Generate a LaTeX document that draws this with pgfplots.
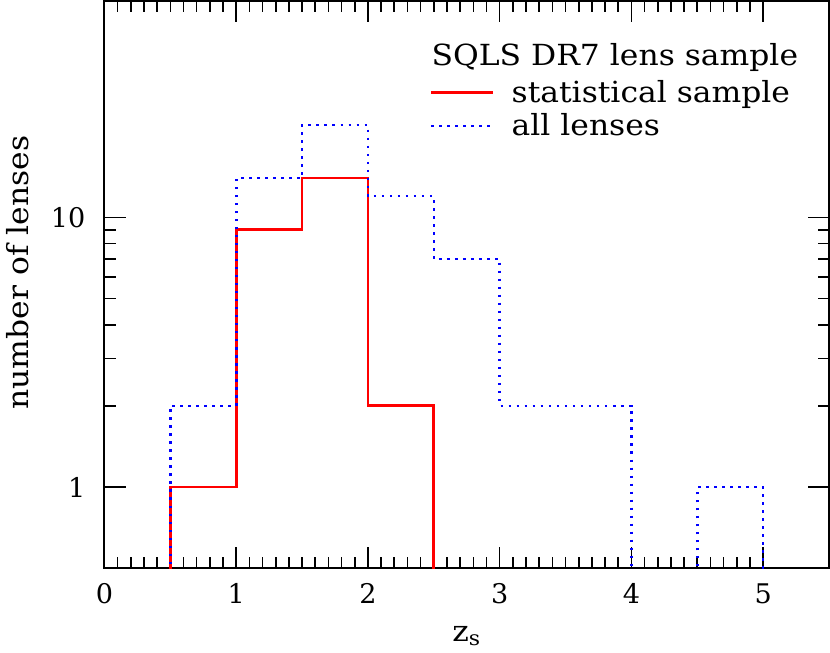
\documentclass[border=0pt]{standalone}
\usepackage{fontspec}
\setmainfont[FakeStretch=1.08]{DejaVu Serif}
\newfontfamily\tickfont{DejaVu Serif}
\usepackage{pgfplots}
\pgfplotsset{compat=1.18}

\begin{document}
\begin{tikzpicture}
  \begin{semilogyaxis}[
      scale only axis,
      width=361.5pt, height=283pt,
      xmin=0, xmax=5.5, ymin=0.5, ymax=63.5,
      xtick={0,1,2,3,4,5}, minor x tick num=9,
      ytick={1,10}, yticklabels={1,10},
      tick align=inside,
      major tick length=10.5pt, minor tick length=5.5pt,
      axis line style={line width=1pt},
      every tick/.style={black, line width=0.8pt},
      /pgf/number format/assume math mode=true,
      tick label style={font=\tickfont\fontsize{13.5}{15}\selectfont},
      xticklabel style={yshift=-4pt},
      yticklabel style={xshift=-6pt},
      xlabel={z\textsubscript{s}},
      ylabel={number of lenses},
      label style={font=\fontsize{14.5}{16}\selectfont},
      xlabel style={yshift=-4.5pt},
      ylabel style={yshift=4pt, xshift=6pt},
      legend style={at={(rel axis cs:0.44,0.875)}, anchor=north west,
        draw=none, fill=none, font=\fontsize{14.5}{16}\selectfont,
        row sep=0pt, nodes={inner sep=2pt}},
      legend cell align=left,
      legend image code/.code={\draw[#1] (0pt,0pt) -- (31pt,0pt); \path (37.5pt,0pt);},
    ]
    % statistical sample (zero bins pushed below ymin)
    \addplot[const plot, red, line width=1.4pt] coordinates {
      (0.5,0.1) (0.5,1) (1,9) (1.5,14) (2,2) (2.5,0.1)};
    \addlegendentry{statistical sample}
    % all lenses
    \addplot[const plot, blue, line width=1.3pt, dash pattern=on 1.3pt off 2.7pt] coordinates {
      (0.5,0.1) (0.5,2) (1,14) (1.5,22) (2,12) (2.5,7) (3,2) (3.5,2)
      (4,0.1) (4.5,1) (5,0.1)};
    \addlegendentry{all lenses}
    \node[anchor=west, inner sep=0pt, font=\fontsize{14.5}{16}\selectfont]
      at (rel axis cs:0.451,0.901) {SQLS DR7 lens sample};
  \end{semilogyaxis}
\end{tikzpicture}
\end{document}
